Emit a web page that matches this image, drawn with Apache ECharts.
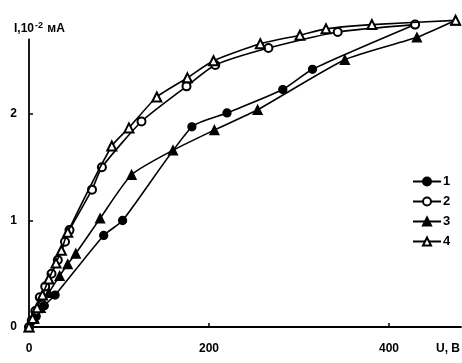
<!DOCTYPE html>
<html><head><meta charset="utf-8">
<script src="https://cdn.jsdelivr.net/npm/echarts@6/dist/echarts.min.js"></script>
<style>html,body{margin:0;padding:0;background:#fff}#c{width:462px;height:363px}</style>
</head><body><div id="c"></div>
<script>
const xTicks = [0, 200, 400];
const yTicks = [0, 1, 2];
const seriesNames = ['1', '2', '3', '4'];
const s1 = [[0,0],[8,0.1],[17,0.2],[29,0.3],[83,0.86],[104,1.0],[181,1.88],[220,2.01],[282,2.23],[315,2.42],[429,2.84]];
const s2 = [[0,0],[3,0.06],[7,0.15],[12,0.28],[18,0.38],[25,0.5],[32,0.63],[40,0.8],[45,0.91],[70,1.29],[81,1.5],[125,1.93],[175,2.26],[207,2.46],[266,2.62],[343,2.77],[429,2.84]];
const s3 = [[0,0],[6,0.08],[13,0.18],[22,0.32],[34,0.48],[43,0.59],[52,0.69],[79,1.02],[114,1.43],[160,1.66],[206,1.85],[254,2.04],[351,2.51],[431,2.72],[474,2.88]];
const s4 = [[0,0],[4,0.08],[9,0.18],[15,0.3],[22,0.45],[30,0.6],[36,0.72],[43,0.89],[92,1.7],[111,1.87],[142,2.16],[176,2.34],[205,2.5],[257,2.66],[301,2.74],[330,2.8],[381,2.84],[474,2.88]];

const font = 'Liberation Sans, Arial, sans-serif';
function mk(name, data, symbol, size, z) {
  return {
    name, type: 'line', data, symbol, symbolSize: size, clip: false, z, smooth: 0.2,
    color: '#000', itemStyle: {color: '#000', borderColor: '#000', borderWidth: 1.3},
    lineStyle: {color: '#000', width: 1.6}
  };
}
const chart = echarts.init(document.getElementById('c'), null, {renderer: 'canvas'});
chart.setOption({
  animation: false,
  backgroundColor: '#fff',
  grid: {left: 29, right: 1, top: 39.5, bottom: 36},
  xAxis: {
    type: 'value', min: 0, max: 480,
    axisLine: {lineStyle: {color: '#000', width: 1.8}},
    axisTick: {inside: true, length: 4, customValues: xTicks, lineStyle: {color: '#000', width: 1.5}},
    axisLabel: {customValues: xTicks, color: '#000', fontFamily: font, fontWeight: 'bold', fontSize: 12, margin: 16},
    splitLine: {show: false}
  },
  yAxis: {
    type: 'value', min: 0, max: 2.7,
    axisLine: {show: true, lineStyle: {color: '#000', width: 1.8}},
    axisTick: {show: true, inside: true, length: 4, customValues: yTicks, lineStyle: {color: '#000', width: 1.5}},
    axisLabel: {customValues: yTicks, color: '#000', fontFamily: font, fontWeight: 'bold', fontSize: 12, margin: 12},
    splitLine: {show: false}
  },
  legend: {
    orient: 'vertical', left: 407, top: 170, itemGap: 7, itemWidth: 28, itemHeight: 10,
    data: seriesNames,
    textStyle: {color: '#000', fontFamily: font, fontWeight: 'bold', fontSize: 13, padding: [0,0,0,-3]}
  },
  title: [
    {text: '{a|I,10}{s|-2}{a| мА}', left: 9, top: 16,
     textStyle: {rich: {a: {fontFamily: font, fontWeight: 'bold', fontSize: 12, color: '#000'},
                        s: {fontFamily: font, fontWeight: 'bold', fontSize: 9, color: '#000', verticalAlign: 'top', padding: [0,1,6,1]}}}},
    {text: 'U, B', left: 431, top: 338, textStyle: {fontFamily: font, fontWeight: 'bold', fontSize: 12, color: '#000'}}
  ],
  series: [
    mk(seriesNames[0], s1, 'circle', 8, 2),
    mk(seriesNames[2], s3, 'triangle', 9, 2),
    mk(seriesNames[1], s2, 'emptyCircle', 8, 3),
    mk(seriesNames[3], s4, 'emptyTriangle', 9, 4)
  ]
});
</script></body></html>
